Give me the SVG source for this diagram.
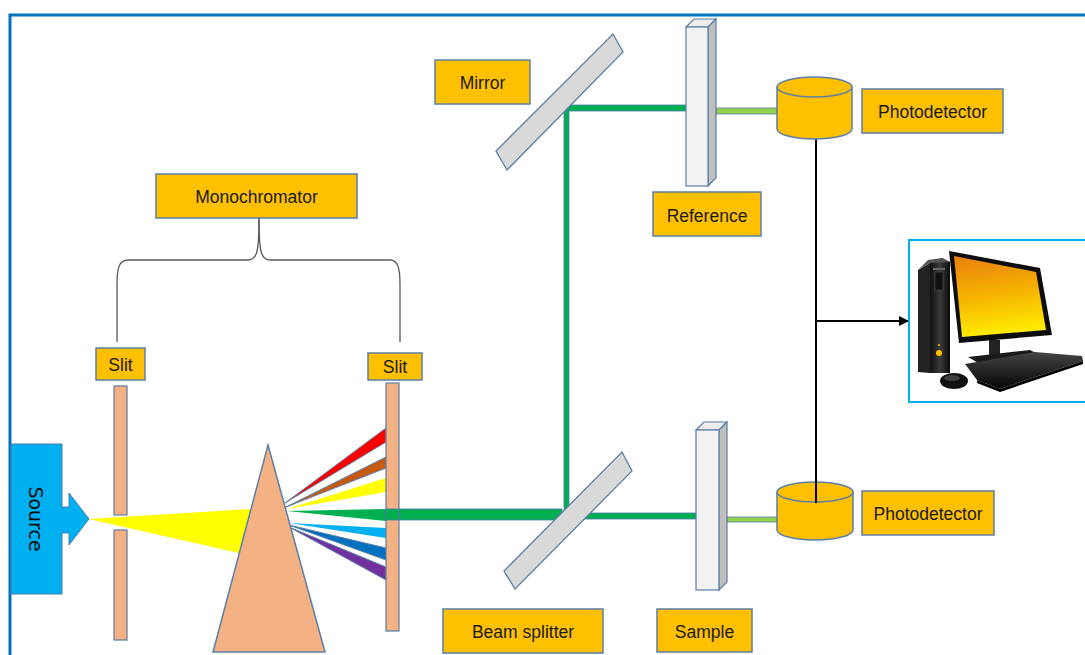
<svg xmlns="http://www.w3.org/2000/svg" width="1085" height="655" viewBox="0 0 1085 655">
  <defs>
    <style>
      .lbl { fill: #FFC000; stroke: #5B7FA6; stroke-width: 1.5; }
      .lbl-t { font-family: "Liberation Sans", Arial, sans-serif; font-size: 17.5px; fill: #1a1a1a; text-anchor: middle; }
      .slit { fill: #F4B183; stroke: #5B7FA6; stroke-width: 1.2; }
      .beam { fill: #00B050; stroke: #4A7BA8; stroke-width: 0.8; }
      .beam-lt { fill: #92D050; stroke: #5B7FA6; stroke-width: 0.8; }
      .ray-o { stroke: #5B7FA6; stroke-width: 1; }
      .glass { fill: #D9D9D9; stroke: #5B7FA6; stroke-width: 1.3; }
      .cuv-front { fill: #F2F2F2; stroke: #5B7FA6; stroke-width: 1.2; }
      .cuv-side { fill: #BFBFBF; stroke: #5B7FA6; stroke-width: 1.2; }
      .cuv-top { fill: #EDEDED; stroke: #5B7FA6; stroke-width: 1.2; }
      .det { fill: #FFC000; stroke: #5B7FA6; stroke-width: 1.5; }
      .wire { stroke: #000; stroke-width: 2; fill: none; }
    </style>
    <marker id="arrow" viewBox="0 0 10 10" refX="9" refY="5" markerWidth="5" markerHeight="5" orient="auto">
      <path d="M0,0 L10,5 L0,10 z" fill="#000"/>
    </marker>
    <linearGradient id="screen" x1="0" y1="0" x2="0.15" y2="1">
      <stop offset="0" stop-color="#E8800E"/>
      <stop offset="0.5" stop-color="#F5B000"/>
      <stop offset="1" stop-color="#FFEA00"/>
    </linearGradient>
    <linearGradient id="tower" x1="0" y1="0" x2="1" y2="0">
      <stop offset="0" stop-color="#111"/>
      <stop offset="0.5" stop-color="#3a3a3a"/>
      <stop offset="1" stop-color="#0a0a0a"/>
    </linearGradient>
    <linearGradient id="kbd" x1="0" y1="0" x2="0" y2="1">
      <stop offset="0" stop-color="#444"/>
      <stop offset="1" stop-color="#050505"/>
    </linearGradient>
  </defs>

  <rect width="1085" height="655" fill="#fff"/>

  <!-- outer frame -->
  <path d="M10,655 L10,15 L1085,15" fill="none" stroke="#0070C0" stroke-width="3"/>

  <!-- light rays and beams -->
  <g id="connectors">
    <!-- white light from source to prism -->
    <polygon points="89,519 251,509 239,553" fill="#FFFF00"/>
    <!-- dispersed spectrum -->
    <polygon class="ray-o" points="285,503 386,428 386,442" fill="#FF0000"/>
    <polygon class="ray-o" points="286,507 386,457 386,468" fill="#C55A11"/>
    <polygon points="287,509 386,478 386,492" fill="#FFFF00"/>
    <polygon points="287,511 386,509 386,521" fill="#00B050"/>
    <polygon points="289,523 386,528 386,538" fill="#00B0F0"/>
    <polygon class="ray-o" points="289,525 386,548 386,560" fill="#0070C0"/>
    <polygon class="ray-o" points="289,527 386,567 386,580" fill="#7030A0"/>

    <!-- selected green beam -->
    <rect class="beam" x="386" y="509" width="176" height="11"/>
    <rect class="beam" x="564" y="105" width="5" height="406"/>
    <rect class="beam" x="564" y="105" width="122" height="6"/>
    <rect class="beam" x="575" y="513" width="121" height="6"/>
    <!-- transmitted beams -->
    <rect class="beam-lt" x="716" y="108" width="61" height="6"/>
    <rect class="beam-lt" x="727" y="517" width="50" height="5"/>

    <!-- brace -->
    <path d="M259,218 C259,252 257,260 248,260 L128,260 C119,260 117,268 117,285 L117,342" fill="none" stroke="#595959" stroke-width="1.3"/>
    <path d="M259,218 C259,252 261,260 270,260 L390,260 C398,260 400,268 400,285 L400,342" fill="none" stroke="#595959" stroke-width="1.3"/>

    <!-- signal wiring -->
    <line class="wire" x1="816" y1="139" x2="816" y2="503"/>
    <line class="wire" x1="816" y1="321" x2="908" y2="321" marker-end="url(#arrow)"/>
  </g>

  <!-- source -->
  <g id="source">
    <path d="M11,444 L62,444 L62,507 L69,507 L69,493 L89,519 L69,545 L69,533 L62,533 L62,594 L11,594 Z" fill="#00B0F0" stroke="#4A7BA8" stroke-width="1"/>
    <text transform="translate(29,519) rotate(90)" font-family="DejaVu Sans, Verdana, sans-serif" font-size="19" text-anchor="middle" fill="#111">Source</text>
  </g>

  <!-- entrance slit -->
  <g id="slit-in">
    <rect class="slit" x="114" y="386" width="13" height="129"/>
    <rect class="slit" x="114" y="530" width="13" height="110"/>
    <rect class="lbl" x="96" y="348" width="49" height="32"/>
    <text class="lbl-t" x="120.5" y="371">Slit</text>
  </g>

  <!-- prism -->
  <g id="prism">
    <polygon points="268,445 325,652 213,652" fill="#F4B183" stroke="#5B7FA6" stroke-width="1.5"/>
  </g>

  <!-- exit slit -->
  <g id="slit-out">
    <rect class="slit" x="386" y="383" width="13" height="248"/>
    <rect class="beam" x="386" y="509" width="13" height="11"/>
    <rect class="lbl" x="368" y="353" width="54" height="27"/>
    <text class="lbl-t" x="395" y="373">Slit</text>
  </g>

  <g id="monochromator">
    <rect class="lbl" x="156" y="174" width="201" height="44"/>
    <text class="lbl-t" x="256.5" y="203">Monochromator</text>
  </g>

  <!-- mirror -->
  <g id="mirror">
    <polygon class="glass" points="613,34 623,52 507,170 496,151"/>
    <rect class="lbl" x="435" y="60" width="95" height="44"/>
    <text class="lbl-t" x="482.5" y="89">Mirror</text>
  </g>

  <!-- beam splitter -->
  <g id="beam-splitter">
    <polygon class="glass" points="622,452 632,471 515,589 504,571"/>
    <rect class="lbl" x="443" y="609" width="160" height="44"/>
    <text class="lbl-t" x="523" y="638">Beam splitter</text>
  </g>

  <!-- reference cuvette -->
  <g id="reference">
    <polygon class="cuv-top" points="686,27 694,19 716,19 708,27"/>
    <polygon class="cuv-side" points="708,27 716,19 716,178 708,186"/>
    <rect class="cuv-front" x="686" y="27" width="22" height="159"/>
    <rect class="lbl" x="653" y="192" width="108" height="44"/>
    <text class="lbl-t" x="707" y="222">Reference</text>
  </g>

  <!-- sample cuvette -->
  <g id="sample">
    <polygon class="cuv-top" points="696,430 704,422 727,422 719,430"/>
    <polygon class="cuv-side" points="719,430 727,422 727,582 719,590"/>
    <rect class="cuv-front" x="696" y="430" width="23" height="160"/>
    <rect class="lbl" x="657" y="609" width="95" height="43"/>
    <text class="lbl-t" x="704.5" y="638">Sample</text>
  </g>

  <!-- reference photodetector -->
  <g id="photodetector-ref">
    <path class="det" d="M777,87 L777,129 A37.5,10 0 0 0 852,129 L852,87"/>
    <ellipse class="det" cx="814.5" cy="87" rx="37.5" ry="10"/>
    <rect class="lbl" x="862" y="89" width="141" height="44"/>
    <text class="lbl-t" x="932.5" y="118">Photodetector</text>
  </g>

  <!-- sample photodetector -->
  <g id="photodetector-sample">
    <path class="det" d="M777,492 L777,530 A38,10 0 0 0 853,530 L853,492"/>
    <ellipse class="det" cx="815" cy="492" rx="38" ry="10"/>
    <line class="wire" x1="816" y1="480" x2="816" y2="503"/>
    <rect class="lbl" x="862" y="491" width="132" height="44"/>
    <text class="lbl-t" x="928" y="520">Photodetector</text>
  </g>

  <!-- computer -->
  <g id="computer">
    <rect x="909" y="240" width="185" height="162" fill="#fff" stroke="#00B0F0" stroke-width="2"/>
    <!-- tower -->
    <polygon points="918,270 930,263 930,373 918,372" fill="#222"/>
    <polygon points="930,263 942,258 950,262 950,373 930,373" fill="url(#tower)"/>
    <polygon points="918,270 930,263 950,262 942,258 928,260" fill="#555"/>
    <rect x="933" y="268" width="12" height="2" fill="#666"/>
    <rect x="935" y="272" width="8" height="18" fill="#111" stroke="#555" stroke-width="0.6"/>
    <circle cx="939" cy="353" r="3" fill="#FFC000"/>
    <circle cx="939" cy="345" r="1" fill="#FFC000"/>
    <!-- monitor -->
    <polygon points="949,251 1040,268 1052,335 959,343" fill="#0d0d0d"/>
    <polygon points="954,256 1036,272 1046,330 962,337" fill="url(#screen)"/>
    <rect x="989" y="340" width="11" height="15" fill="#222"/>
    <path d="M968,357 L1030,350 L1042,356 L980,364 Z" fill="#1a1a1a"/>
    <!-- keyboard -->
    <path d="M965,364 L1035,352 L1082,356 L1083,361 L1000,389 L977,380 Z" fill="url(#kbd)"/>
    <path d="M977,380 L1000,389 L1083,361 L1083,364 L1000,392 L977,383 Z" fill="#000"/>
    <!-- mouse -->
    <ellipse cx="954" cy="381" rx="14" ry="8" fill="#111"/>
    <ellipse cx="952" cy="378" rx="8" ry="3" fill="#3d3d3d"/>
  </g>
</svg>
